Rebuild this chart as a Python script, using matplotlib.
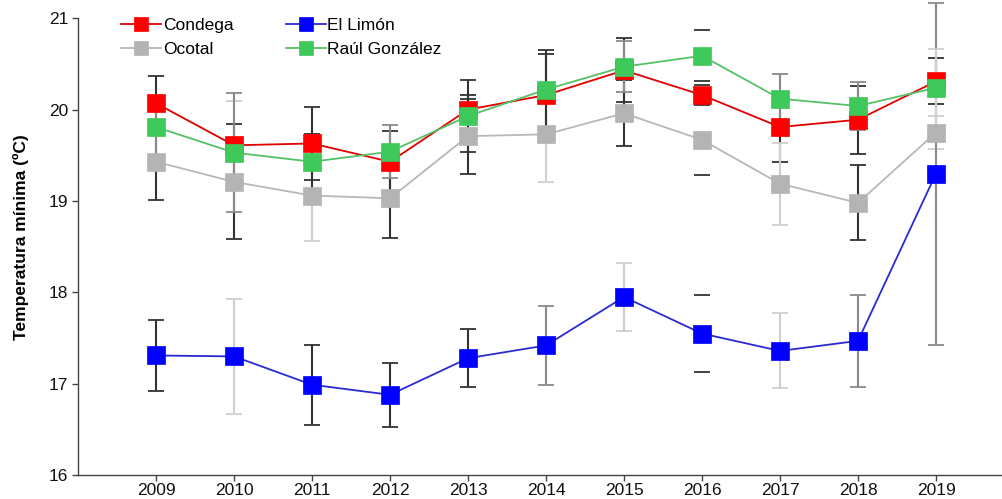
import matplotlib
matplotlib.use("Agg")
import matplotlib.pyplot as plt

plt.rcParams['font.family'] = ['Liberation Sans', 'DejaVu Sans']

years = [2009, 2010, 2011, 2012, 2013, 2014, 2015, 2016, 2017, 2018, 2019]

condega = [20.07, 19.61, 19.63, 19.43, 20.00, 20.16, 20.43, 20.16, 19.81, 19.89, 20.31]
el_limon = [17.31, 17.30, 16.99, 16.88, 17.28, 17.42, 17.95, 17.55, 17.36, 17.47, 19.30]
ocotal = [19.43, 19.21, 19.06, 19.03, 19.71, 19.73, 19.96, 19.67, 19.19, 18.98, 19.75]
raul = [19.81, 19.53, 19.43, 19.54, 19.93, 20.22, 20.47, 20.59, 20.12, 20.04, 20.24]

condega_err = [0.30, 0.49, 0.40, 0.34, 0.16, 0.45, 0.35, 0.11, 0.38, 0.37, 0.25]
el_limon_err = [0.39, 0.63, 0.44, 0.35, 0.32, 0.43, 0.37, 0.42, 0.41, 0.50, 1.87]
ocotal_err = [0.42, 0.63, 0.50, 0.43, 0.41, 0.52, 0.36, 0.39, 0.45, 0.41, 0.18]
raul_err = [0.33, 0.65, 0.30, 0.29, 0.39, 0.43, 0.28, 0.28, 0.27, 0.26, 0.42]

# error-bar shade per point (style)
D, G, L, N = '#333333', '#8a8a8a', '#cfcfcf', 'caps'
condega_ec = [D, L, D, D, D, D, D, N, D, D, D]
el_limon_ec = [D, L, D, D, D, G, L, N, L, G, G]
ocotal_ec = [D, D, L, D, D, L, D, N, L, D, L]
raul_ec = [G, G, D, G, D, D, G, N, G, G, L]

series = [
    ("Condega", condega, condega_err, condega_ec, '#ff0000', '#e00000', '#ff0000'),
    ("Ocotal", ocotal, ocotal_err, ocotal_ec, '#b4b4b4', '#b8b8b8', '#b4b4b4'),
    ("El Limón", el_limon, el_limon_err, el_limon_ec, '#0000ff', '#2a2ad0', '#0000ff'),
    ("Raúl González", raul, raul_err, raul_ec, '#3ec95a', '#55c066', '#3ec95a'),
]

fig = plt.figure(figsize=(10.03, 4.99), dpi=100)
ax = fig.add_axes([78 / 1003, 23.8 / 499, 925 / 1003, 475.2 / 499])

for name, vals, errs, ecs, mc, lc, mec in series:
    for x, y, e, c in zip(years, vals, errs, ecs):
        if c == 'caps':
            eb = ax.errorbar(x, y, yerr=e, fmt='none', ecolor='#222222',
                             capsize=6, elinewidth=1.2, capthick=1.2, zorder=1)
            for coll in eb[2]:
                coll.set_alpha(0)
        else:
            ax.errorbar(x, y, yerr=e, fmt='none', ecolor=c, capsize=6,
                        elinewidth=1.5, capthick=1.3, zorder=1, clip_on=False)

handles = {}
for name, vals, errs, ecs, mc, lc, mec in series:
    h, = ax.plot(years, vals, '-', color=lc, lw=1.3, marker='s', markersize=13,
                 markerfacecolor=mc, markeredgecolor=mec, markeredgewidth=0.5,
                 label=name, zorder=3)
    handles[name] = h

ax.set_xlim(2008, 2008 + 925 / 78)
ax.set_ylim(16, 21.2)
ax.set_yticks([16, 17, 18, 19, 20, 21])
ax.set_xticks(years)
ax.spines['left'].set_bounds(16, 21)
for s in ['top', 'right']:
    ax.spines[s].set_visible(False)
for s in ['left', 'bottom']:
    ax.spines[s].set_color('#444444')
    ax.spines[s].set_linewidth(1.0)
ax.tick_params(axis='both', direction='out', length=4, width=1, color='#444444',
               labelsize=12.5, labelcolor='#111111')
ax.tick_params(axis='x', pad=1.5)
ax.tick_params(axis='y', pad=3)

ax.set_ylabel('Temperatura mínima (ºC)', fontsize=12.5, fontweight='bold', labelpad=14)

leg = ax.legend([handles['Condega'], handles['Ocotal'], handles['El Limón'], handles['Raúl González']],
                ['Condega', 'Ocotal', 'El Limón', 'Raúl González'],
                ncol=2, loc='upper left', bbox_to_anchor=(0.03, 0.995), frameon=False,
                fontsize=12.5, handlelength=2.3, handletextpad=0.1, columnspacing=3.0,
                labelspacing=0.5, markerscale=0.8)

fig.savefig('out.png', dpi=100)
